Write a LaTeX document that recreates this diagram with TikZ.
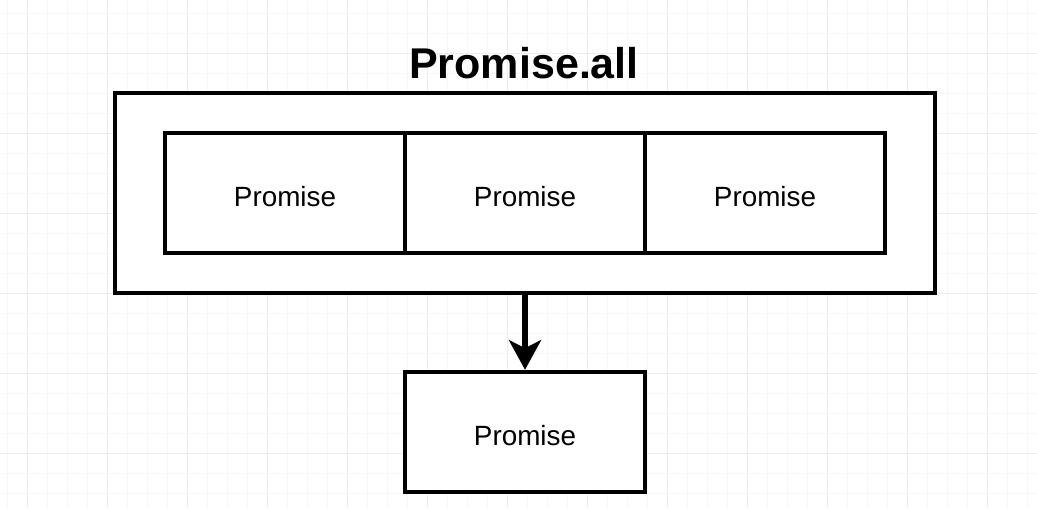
\documentclass[tikz,border=0pt]{standalone}
\usepackage{fontspec}
\setmainfont{Liberation Sans}
\usepackage{tikz}
\usetikzlibrary{arrows.meta}
\tikzset{
  promise/.style={draw, line width=1.1mm, minimum width=6cm, minimum height=3cm,
    inner sep=0pt, text height=0.65cm, text depth=0cm, font=\fontsize{19.8}{24}\selectfont},
  wrapper/.style={draw, line width=1.1mm, minimum width=20.5cm, minimum height=5cm, inner sep=0pt},
}
\begin{document}
\begin{tikzpicture}[x=0.025cm,y=-0.025cm]
\useasboundingbox (0,0) rectangle (1037,508);

% background grid
\foreach \gx in {7,27,...,1037} \draw[black!3] (\gx,0) -- (\gx,508);
\foreach \gy in {13,33,...,508} \draw[black!3] (0,\gy) -- (1037,\gy);
\foreach \gx in {27,107,...,1037} \draw[black!7] (\gx,0) -- (\gx,508);
\foreach \gy in {53,133,...,508} \draw[black!7] (0,\gy) -- (1037,\gy);

\node[anchor=base, font=\bfseries\fontsize{30.6}{36}\selectfont] (title) at (524,78) {Promise.all};

\node[wrapper, fill=white] (all) at (525,193) {};
\node[promise] (p1) at (285,193) {Promise};
\node[promise] (p2) at (525,193) {Promise};
\node[promise] (p3) at (765,193) {Promise};

\node[promise, fill=white] (res) at (525,432) {Promise};

\draw[line width=1.5mm, -{Stealth[length=7.4mm,width=8mm,inset=2mm]}] (all.south) -- (res.north);
\end{tikzpicture}
\end{document}
